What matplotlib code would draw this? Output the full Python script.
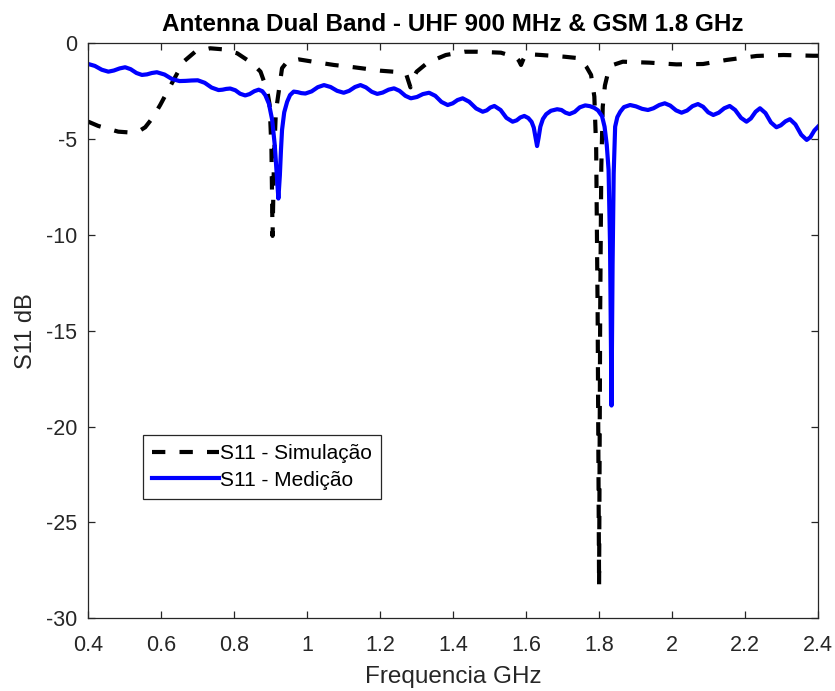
import matplotlib
matplotlib.use('Agg')
import matplotlib.pyplot as plt

plt.rcParams['font.family'] = ['Liberation Sans', 'DejaVu Sans']
plt.rcParams['axes.unicode_minus'] = False

# S11 simulated - frequency in GHz, magnitude in dB
freq_sim = [0.400, 0.427, 0.482, 0.519, 0.540, 0.556, 0.575, 0.597, 0.624, 0.661,
            0.693, 0.734, 0.766, 0.808, 0.849, 0.872, 0.890, 0.897, 0.902, 0.905,
            0.909, 0.914, 0.920, 0.931, 0.945, 0.977, 1.032, 1.073, 1.128, 1.201,
            1.256, 1.272, 1.283, 1.292, 1.300, 1.330, 1.380, 1.431, 1.467, 1.531,
            1.572, 1.580, 1.586, 1.592, 1.600, 1.641, 1.705, 1.746, 1.765, 1.778,
            1.787, 1.792, 1.796, 1.800, 1.803, 1.806, 1.810, 1.816, 1.824, 1.838,
            1.865, 1.938, 2.012, 2.085, 2.149, 2.232, 2.305, 2.387, 2.400]
s11_sim = [-4.09, -4.31, -4.61, -4.66, -4.57, -4.38, -3.92, -3.22, -2.26, -0.96,
           -0.44, -0.26, -0.31, -0.52, -1.04, -1.48, -2.44, -3.20, -5.50, -10.05,
           -6.00, -3.60, -2.78, -1.30, -0.96, -0.84, -1.01, -1.13, -1.25, -1.43,
           -1.51, -1.65, -2.30, -1.75, -1.48, -1.01, -0.61, -0.44, -0.44, -0.49,
           -0.73, -0.90, -1.13, -0.85, -0.56, -0.61, -0.70, -0.78, -1.22, -1.65,
           -2.78, -5.50, -14.00, -28.30, -14.00, -6.50, -3.31, -2.20, -1.57, -1.13,
           -0.96, -1.01, -1.10, -1.08, -0.87, -0.66, -0.61, -0.65, -0.65]

# S11 measured
freq_med = [0.400, 0.418, 0.437, 0.455, 0.470, 0.486, 0.501, 0.516, 0.532, 0.547,
            0.561, 0.574, 0.588, 0.609, 0.629, 0.650, 0.667, 0.683, 0.700, 0.719,
            0.738, 0.757, 0.768, 0.778, 0.789, 0.803, 0.816, 0.830, 0.842, 0.855,
            0.867, 0.877, 0.885, 0.895, 0.904, 0.911, 0.916, 0.921, 0.925, 0.928,
            0.931, 0.937, 0.945, 0.953, 0.963, 0.974, 0.984, 0.995, 1.012, 1.029,
            1.046, 1.064, 1.082, 1.100, 1.115, 1.131, 1.146, 1.161, 1.177, 1.192,
            1.207, 1.223, 1.238, 1.253, 1.269, 1.284, 1.301, 1.317, 1.334, 1.351,
            1.368, 1.385, 1.399, 1.412, 1.426, 1.444, 1.463, 1.481, 1.492, 1.502,
            1.513, 1.530, 1.546, 1.563, 1.574, 1.584, 1.595, 1.606, 1.615, 1.621,
            1.626, 1.630, 1.634, 1.639, 1.646, 1.655, 1.668, 1.685, 1.697, 1.708,
            1.719, 1.733, 1.747, 1.762, 1.775, 1.787, 1.797, 1.808, 1.815, 1.821,
            1.826, 1.830, 1.834, 1.837, 1.840, 1.844, 1.850, 1.858, 1.868, 1.885,
            1.901, 1.918, 1.934, 1.949, 1.965, 1.980, 1.995, 2.011, 2.026, 2.041,
            2.056, 2.071, 2.085, 2.099, 2.113, 2.128, 2.143, 2.158, 2.173, 2.189,
            2.204, 2.216, 2.229, 2.241, 2.256, 2.271, 2.286, 2.298, 2.311, 2.323,
            2.338, 2.354, 2.369, 2.379, 2.390, 2.400]
s11_med = [-1.08, -1.18, -1.38, -1.48, -1.42, -1.31, -1.25, -1.35, -1.55, -1.65,
           -1.62, -1.55, -1.51, -1.63, -1.86, -1.97, -1.96, -1.94, -1.93, -2.06,
           -2.31, -2.44, -2.42, -2.38, -2.36, -2.45, -2.63, -2.72, -2.65, -2.50,
           -2.42, -2.50, -2.70, -3.15, -4.00, -5.30, -6.70, -8.10, -6.90, -5.60,
           -4.52, -3.60, -3.05, -2.70, -2.52, -2.55, -2.60, -2.62, -2.51, -2.29,
           -2.18, -2.28, -2.48, -2.58, -2.48, -2.28, -2.18, -2.30, -2.53, -2.64,
           -2.57, -2.42, -2.35, -2.48, -2.74, -2.87, -2.80, -2.65, -2.58, -2.74,
           -3.06, -3.22, -3.13, -2.96, -2.87, -3.05, -3.40, -3.57, -3.50, -3.35,
           -3.27, -3.48, -3.89, -4.09, -4.02, -3.87, -3.79, -3.90, -4.10, -4.40,
           -4.95, -5.36, -4.95, -4.35, -3.95, -3.70, -3.52, -3.44, -3.48, -3.62,
           -3.69, -3.58, -3.34, -3.24, -3.28, -3.37, -3.50, -3.80, -4.35, -5.30,
           -6.60, -10.50, -18.90, -11.50, -6.80, -4.35, -3.85, -3.57, -3.33, -3.22,
           -3.29, -3.42, -3.48, -3.39, -3.22, -3.13, -3.25, -3.50, -3.62, -3.51,
           -3.28, -3.17, -3.31, -3.60, -3.74, -3.62, -3.39, -3.27, -3.48, -3.89,
           -4.09, -3.92, -3.57, -3.39, -3.64, -4.13, -4.38, -4.28, -4.07, -3.96,
           -4.23, -4.77, -5.04, -4.90, -4.55, -4.35]

x_ticks = [0.4, 0.6, 0.8, 1.0, 1.2, 1.4, 1.6, 1.8, 2.0, 2.2, 2.4]
x_tick_labels = ['0.4', '0.6', '0.8', '1', '1.2', '1.4', '1.6', '1.8', '2', '2.2', '2.4']
y_ticks = [-30, -25, -20, -15, -10, -5, 0]

fig = plt.figure(figsize=(8.35, 6.91), dpi=100)
ax = fig.add_axes([88.3 / 835, (691 - 618.3) / 691, 729.7 / 835, 575 / 691])

ax.plot(freq_sim, s11_sim, color='black', linewidth=3, linestyle=(0, (3.2, 3.4)),
        dash_capstyle='butt', label='S11 - Simulação')
ax.plot(freq_med, s11_med, color='#0000ff', linewidth=3, label='S11 - Medição')

ax.set_xlim(0.4, 2.4)
ax.set_ylim(-30, 0)
ax.set_xticks(x_ticks)
ax.set_xticklabels(x_tick_labels)
ax.set_yticks(y_ticks)

grey = '#262626'
for sp in ax.spines.values():
    sp.set_color(grey)
    sp.set_linewidth(0.9)
ax.tick_params(direction='in', top=True, right=True, length=5, width=0.9,
               color=grey, labelcolor=grey, labelsize=15.5)
ax.tick_params(axis='x', pad=12)
ax.tick_params(axis='y', pad=8)

ax.set_title('Antenna Dual Band - UHF 900 MHz & GSM 1.8 GHz', fontsize=17.5,
             fontweight='bold', color='black', pad=9)
ax.set_xlabel('Frequencia GHz', fontsize=17.5, color=grey, labelpad=7)
ax.set_ylabel('S11 dB', fontsize=17, color=grey, labelpad=6.5)

leg = ax.legend(loc='upper left', bbox_to_anchor=(0.075, 0.319), borderaxespad=0,
                fontsize=15, handlelength=3.2, handletextpad=0.05,
                labelspacing=0.35, borderpad=0.45, fancybox=False, framealpha=1)
leg.get_frame().set_edgecolor(grey)
leg.get_frame().set_linewidth(0.9)

fig.savefig('out.png', dpi=100)
